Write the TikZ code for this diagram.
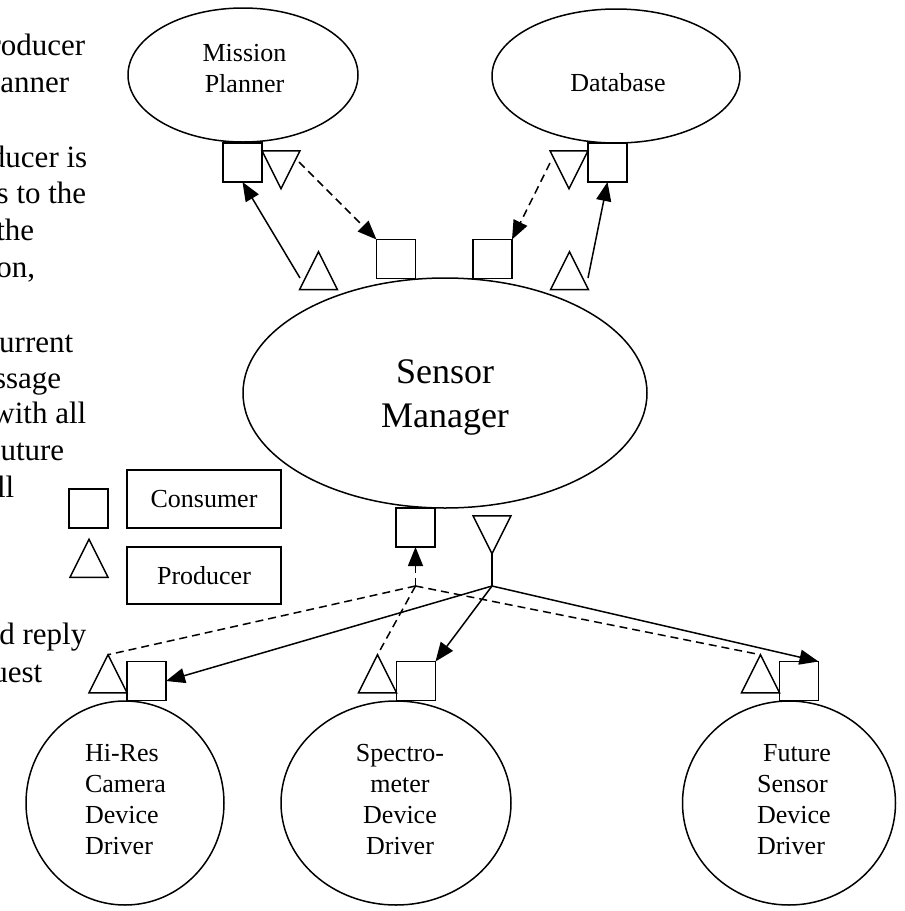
\documentclass[tikz,border=0pt]{standalone}
\usepackage{fontspec}
\setmainfont{Liberation Serif}
\usetikzlibrary{shapes.geometric,arrows.meta}
\begin{document}
\begin{tikzpicture}[x=1pt,y=-1pt,
  every path/.style={line width=1.5pt},
  unit/.style={draw, ellipse, inner sep=0pt, outer sep=0pt, line width=1.5pt},
  sq/.style={draw, rectangle, minimum width=39pt, minimum height=39pt, inner sep=0pt, outer sep=0pt, line width=1.5pt},
  triup/.style={draw, isosceles triangle, isosceles triangle stretches, shape border rotate=90,
    minimum width=38pt, minimum height=38pt, inner sep=0pt, outer sep=0pt, line width=1.5pt},
  tridown/.style={triup, shape border rotate=270},
  lbl/.style={font=\fontsize{26}{31}\selectfont, inner sep=0pt},
  biglbl/.style={font=\fontsize{36}{44}\selectfont, inner sep=0pt, align=center},
  note/.style={font=\fontsize{31}{37}\selectfont, inner sep=0pt, anchor=base east},
  keybox/.style={draw, rectangle, minimum width=154pt, inner sep=0pt, line width=1.5pt,
    font=\fontsize{26}{31}\selectfont},
  flow/.style={-{Triangle[length=19pt,width=15pt]}, line width=1.5pt},
  req/.style={dash pattern=on 8pt off 5pt, line width=1.5pt},
  reqarrow/.style={req, -{Triangle[length=19pt,width=15pt]}}
]
\useasboundingbox (0,0) rectangle (905,911);

% side notes (cut at the left margin)
\node[note] (n1)  at (86,55)  {roducer};
\node[note] (n2)  at (70,92)  {anner};
\node[note] (n3)  at (88,167) {ducer is};
\node[note] (n4)  at (87,203) {s to the};
\node[note] (n5)  at (35,240) {the};
\node[note] (n6)  at (36,277) {on,};
\node[note] (n7)  at (74,352) {urrent};
\node[note] (n8)  at (62,388) {ssage};
\node[note] (n9)  at (87,423) {with all};
\node[note] (n10) at (65,460) {uture};
\node[note] (n11) at (15,497) {ll};
\node[note] (n12) at (87,644) {d reply};
\node[note] (n13) at (43,682) {uest};

% components
\node[unit, minimum width=230pt, minimum height=134pt] (mp) at (243,75) {};
\node[lbl, align=center] (mpT) at (244.5,68.5) {Mission\\Planner};
\node[unit, minimum width=248pt, minimum height=134pt] (db) at (616,76) {};
\node[lbl] (dbT) at (618,83) {Database};
\node[unit, minimum width=404pt, minimum height=230pt] (sm) at (445,393) {};
\node[biglbl] (smT) at (445,397) {Sensor\\Manager};
\node[unit, minimum width=198pt, minimum height=204pt] (hr) at (125,803) {};
\node[lbl, align=left] (hrT) at (125.5,800) {Hi-Res\\Camera\\Device\\Driver};
\node[unit, minimum width=230pt, minimum height=204pt] (sp) at (396,803) {};
\node[lbl, align=center] (spT) at (400,800) {Spectro-\\meter\\Device\\Driver};
\node[unit, minimum width=213pt, minimum height=204pt] (fs) at (789,803) {};
\node[lbl, align=left] (fsT) at (794,800) {\hspace{6pt}Future\\Sensor\\Device\\Driver};

% consumer (square) and producer (triangle) ports
\node[sq] (mpC) at (242.5,162.5) {};
\node[tridown] (mpP) at (281,162.5) {};
\node[tridown] (dbP) at (569,162.5) {};
\node[sq] (dbC) at (607.5,162.5) {};
\node[triup] (smP1) at (318.5,278) {};
\node[sq] (smC1) at (396,259) {};
\node[sq] (smC2) at (492.5,259) {};
\node[triup] (smP2) at (569.5,278) {};
\node[sq] (smC3) at (415.5,527.5) {};
\node[tridown] (smP3) at (492,527.5) {};
\node[triup] (hrP) at (108,681) {};
\node[sq] (hrC) at (146.5,681) {};
\node[triup] (spP) at (377.5,681) {};
\node[sq] (spC) at (416,681) {};
\node[triup] (fsP) at (760.5,681) {};
\node[sq] (fsC) at (799,681) {};

% legend
\node[sq] (keyC) at (88.5,508.5) {};
\node[keybox, minimum height=58pt] (keyCT) at (204,499) {Consumer};
\node[triup] (keyP) at (89,565.5) {};
\node[keybox, minimum height=57pt] (keyPT) at (204,575.5) {Producer};

% connector end points
\coordinate (s1) at (300,278);
\coordinate (s2) at (588,278);
\coordinate (d1) at (299,162);
\coordinate (d2) at (550,163);
\coordinate (hubS) at (492,586);
\coordinate (hubD) at (415.5,586);

% upper exchanges
\draw[flow] (s1) -- (mpC.south);
\draw[reqarrow] (d1) -- (smC1.north west);
\draw[reqarrow] (d2) -- (smC2.north east);
\draw[flow] (s2) -- (dbC.south);

% sensor manager to device drivers
\draw (smP3.apex) -- (hubS);
\draw[flow] (hubS) -- (hrC.east);
\draw[flow] (hubS) -- (spC.north east);
\draw[flow] (hubS) -- (fsC.north east);

% device drivers back to sensor manager
\draw[reqarrow] (hubD) -- (smC3.south);
\draw[req] (hubD) -- (hrP.apex);
\draw[req] (hubD) -- (spP.apex);
\draw[req] (hubD) -- (fsP.apex);
\end{tikzpicture}
\end{document}
